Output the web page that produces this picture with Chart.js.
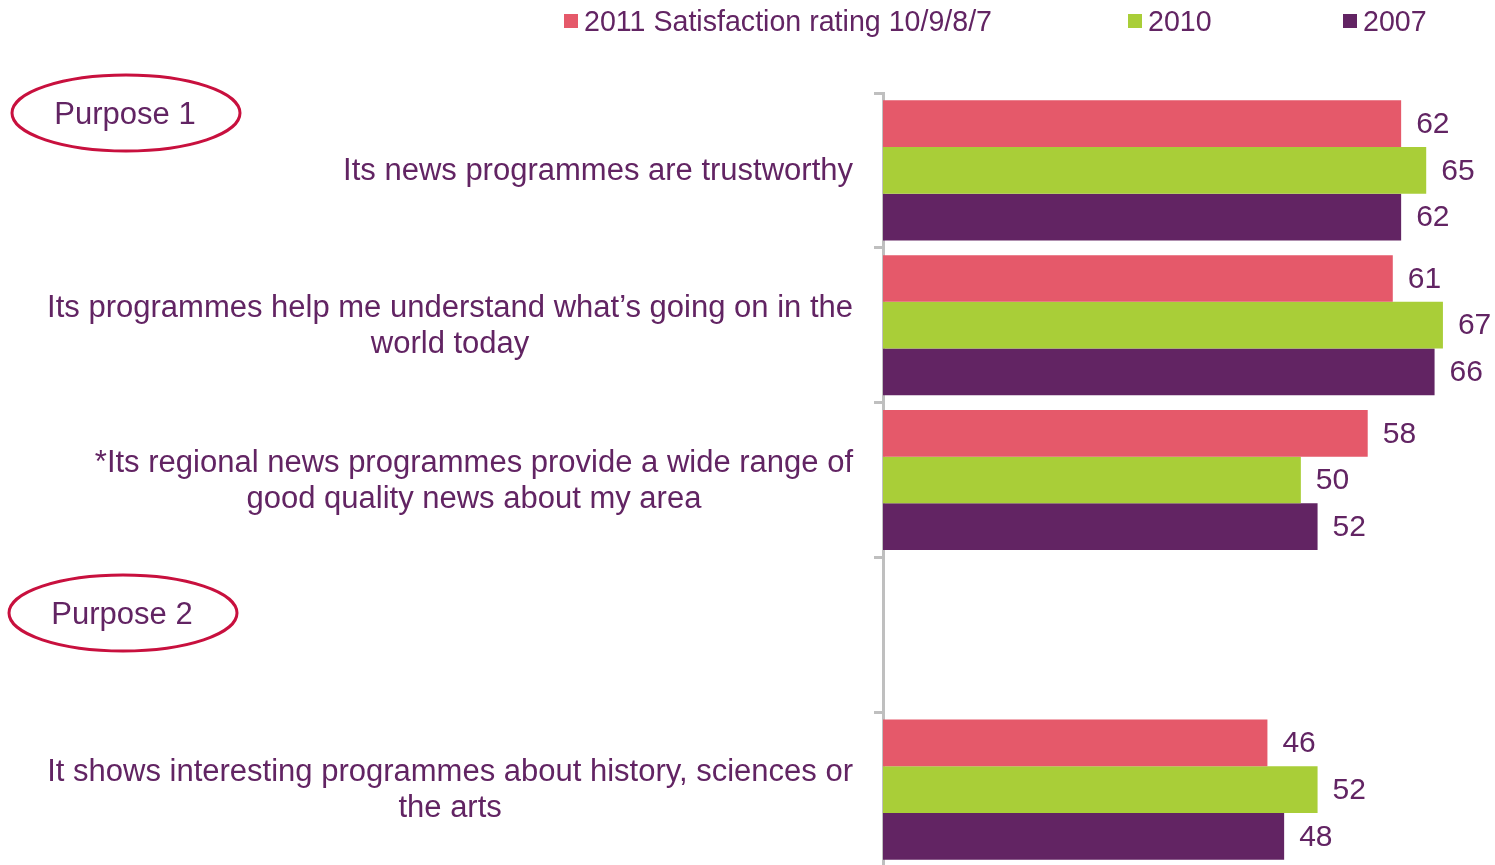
<!DOCTYPE html>
<html lang="en">
<head>
<meta charset="UTF-8">
<title>Satisfaction ratings</title>
<script src="https://cdn.jsdelivr.net/npm/chart.js"></script>
<style>
    html, body { margin: 0; padding: 0; background: #fff; overflow: hidden; }
    #wrap { position: relative; width: 1495px; height: 865px; overflow: hidden; }
</style>
</head>
<body>
<div id="wrap"><canvas id="grafico" width="1495" height="867"></canvas></div>
<script>
    // statements (empty entry leaves the gap before the second purpose)
    const categorias = [
        ["Its news programmes are trustworthy"],
        ["Its programmes help me understand what\u2019s going on in the", "world today"],
        ["*Its regional news programmes provide a wide range of", "good quality news about my area"],
        [""],
        ["It shows interesting programmes about history, sciences or", "the arts"]
    ];
    const serie2011 = [62, 61, 58, null, 46];
    const serie2010 = [65, 67, 50, null, 52];
    const serie2007 = [62, 66, 52, null, 48];
    const nomesSeries = ["2011 Satisfaction rating 10/9/8/7", "2010", "2007"];
    const grupos = [
        { texto: "Purpose 1", x: 126, y: 113 },
        { texto: "Purpose 2", x: 123, y: 613 }
    ];

    const corTexto = "#622463";
    const cores = ["#E5596A", "#A9CE38", "#622463"];
    const fonte = "'Liberation Sans', Arial, sans-serif";

    // legend across the top
    const legenda = {
        id: "legenda",
        afterDraw(chart) {
            const c = chart.ctx;
            const xs = [564, 1128, 1343];
            c.save();
            c.font = "28.6px " + fonte;
            c.textBaseline = "middle";
            chart.data.datasets.forEach((ds, i) => {
                c.fillStyle = ds.backgroundColor;
                c.fillRect(xs[i], 14, 14, 14);
                c.fillStyle = corTexto;
                c.fillText(ds.label, xs[i] + 20, 23);
            });
            c.restore();
        }
    };

    // category labels: block right aligned, lines centred inside the block
    const rotulos = {
        id: "rotulos",
        afterDraw(chart) {
            const c = chart.ctx;
            const y = chart.scales.y;
            const direita = 853;
            c.save();
            c.font = "31px " + fonte;
            c.fillStyle = corTexto;
            c.textAlign = "center";
            c.textBaseline = "middle";
            categorias.forEach((linhas, i) => {
                const larg = Math.max(...linhas.map(l => c.measureText(l).width));
                const cx = direita - larg / 2;
                const yc = y.getPixelForTick(i) + 1;
                const alt = 36;
                linhas.forEach((l, k) => {
                    c.fillText(l, cx, yc + (k - (linhas.length - 1) / 2) * alt);
                });
            });

            // ellipses round the purpose headings
            grupos.forEach(g => {
                c.beginPath();
                c.ellipse(g.x, g.y, 114, 38, 0, 0, Math.PI * 2);
                c.strokeStyle = "#C8103E";
                c.lineWidth = 3;
                c.stroke();
                c.fillStyle = corTexto;
                c.fillText(g.texto, g.x - 1, g.y + 2);
            });
            c.restore();
        }
    };

    // value at the end of every bar
    const valores = {
        id: "valores",
        afterDatasetsDraw(chart) {
            const c = chart.ctx;
            c.save();
            c.font = "30px " + fonte;
            c.fillStyle = corTexto;
            c.textAlign = "left";
            c.textBaseline = "middle";
            chart.data.datasets.forEach((ds, i) => {
                chart.getDatasetMeta(i).data.forEach((bar, j) => {
                    const v = ds.data[j];
                    if (v == null) return;
                    c.fillText(String(v), bar.x + 15, bar.y + 1);
                });
            });
            c.restore();
        }
    };

    const ctx = document.getElementById("grafico").getContext("2d");
    new Chart(ctx, {
        type: "bar",
        data: {
            labels: categorias.map(l => l.join(" ")),
            datasets: [
                { label: nomesSeries[0], data: serie2011, backgroundColor: cores[0] },
                { label: nomesSeries[1], data: serie2010, backgroundColor: cores[1] },
                { label: nomesSeries[2], data: serie2007, backgroundColor: cores[2] }
            ]
        },
        options: {
            indexAxis: "y",
            responsive: false,
            animation: false,
            layout: { padding: { top: 93, right: 27, left: 0, bottom: 0 } },
            datasets: { bar: { categoryPercentage: 0.905, barPercentage: 1, borderWidth: 0 } },
            plugins: { legend: { display: false }, tooltip: { enabled: false } },
            scales: {
                x: { display: false, min: 0, max: 70 },
                y: {
                    afterFit(scale) { scale.width = 883; },
                    ticks: { display: false },
                    grid: {
                        offset: true,
                        drawOnChartArea: false,
                        drawTicks: true,
                        tickLength: 9,
                        color: "#BFBFBF",
                        lineWidth: 3
                    },
                    border: { color: "#BFBFBF", width: 3 }
                }
            }
        },
        plugins: [legenda, rotulos, valores]
    });
</script>
</body>
</html>
